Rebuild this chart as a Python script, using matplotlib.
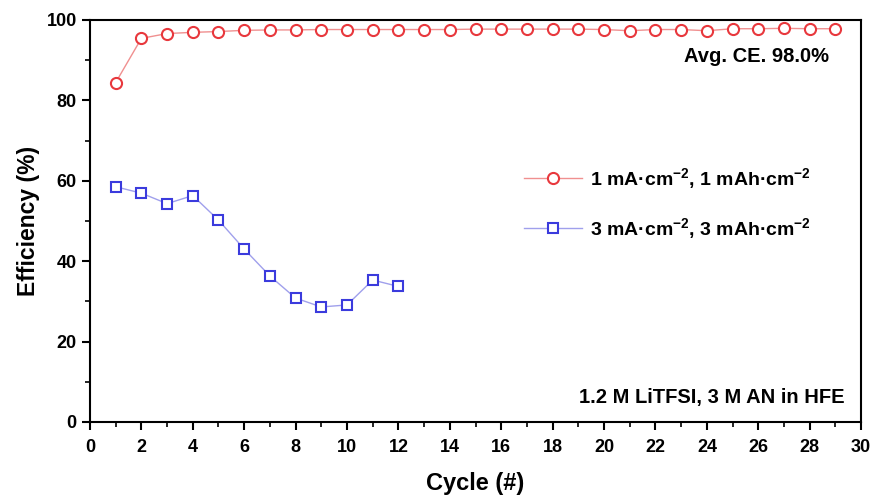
import matplotlib
matplotlib.use("Agg")
import matplotlib.pyplot as plt
from matplotlib.ticker import MultipleLocator

plt.rcParams['font.family'] = ['Liberation Sans', 'DejaVu Sans']
plt.rcParams['font.weight'] = 'bold'
plt.rcParams['mathtext.fontset'] = 'custom'
plt.rcParams['mathtext.rm'] = 'Liberation Sans:bold'
plt.rcParams['mathtext.bf'] = 'Liberation Sans:bold'
plt.rcParams['mathtext.default'] = 'rm'

# data
cycles_1 = list(range(1, 30))
ce_1 = [84.4, 95.4, 96.6, 96.9, 97.1, 97.4, 97.5, 97.5, 97.6, 97.6,
        97.6, 97.6, 97.6, 97.6, 97.7, 97.7, 97.7, 97.7, 97.7, 97.6,
        97.3, 97.6, 97.6, 97.3, 97.8, 97.8, 97.9, 97.8, 97.8]
cycles_3 = list(range(1, 13))
ce_3 = [58.5, 56.9, 54.3, 56.3, 50.2, 43.0, 36.3, 30.8, 28.6, 29.1, 35.3, 33.7]

label_1 = '1 mA·cm$^{-2}$, 1 mAh·cm$^{-2}$'
label_3 = '3 mA·cm$^{-2}$, 3 mAh·cm$^{-2}$'

fig = plt.figure(figsize=(8.76, 4.97), dpi=100)
ax = fig.add_axes([0.1027, 0.151, 0.8803, 0.809])

ax.plot(cycles_1, ce_1, color='#f09090', lw=1.0, marker='o', ms=8,
        mfc='white', mec='#e8383d', mew=1.5, label=label_1)
ax.plot(cycles_3, ce_3, color='#a0a0ec', lw=1.0, marker='s', ms=6.5,
        mfc='white', mec='#3b3bdd', mew=1.5, label=label_3)

ax.set_xlim(0, 30)
ax.set_ylim(0, 100)
ax.xaxis.set_major_locator(MultipleLocator(2))
ax.xaxis.set_minor_locator(MultipleLocator(1))
ax.yaxis.set_major_locator(MultipleLocator(20))
ax.yaxis.set_minor_locator(MultipleLocator(10))
ax.tick_params(which='major', direction='out', length=6, width=1.5, labelsize=13)
ax.tick_params(axis='x', which='major', pad=6)
ax.tick_params(which='minor', direction='out', length=3.5, width=1.2)
for s in ax.spines.values():
    s.set_linewidth(1.5)

ax.set_xlabel('Cycle (#)', fontsize=17, fontweight='bold', labelpad=12)
ax.set_ylabel('Efficiency (%)', fontsize=16.5, fontweight='bold', labelpad=5)

ax.text(0.958, 0.908, 'Avg. CE. 98.0%', transform=ax.transAxes, ha='right',
        va='center', fontsize=14.5, fontweight='bold')
ax.text(0.978, 0.06, '1.2 M LiTFSI, 3 M AN in HFE', transform=ax.transAxes,
        ha='right', va='center', fontsize=14.5, fontweight='bold')

ax.legend(loc='upper left', bbox_to_anchor=(0.54, 0.68), frameon=False,
          fontsize=14, handlelength=3.0, labelspacing=1.3, handletextpad=0.4)

fig.savefig('out.png', dpi=100)
